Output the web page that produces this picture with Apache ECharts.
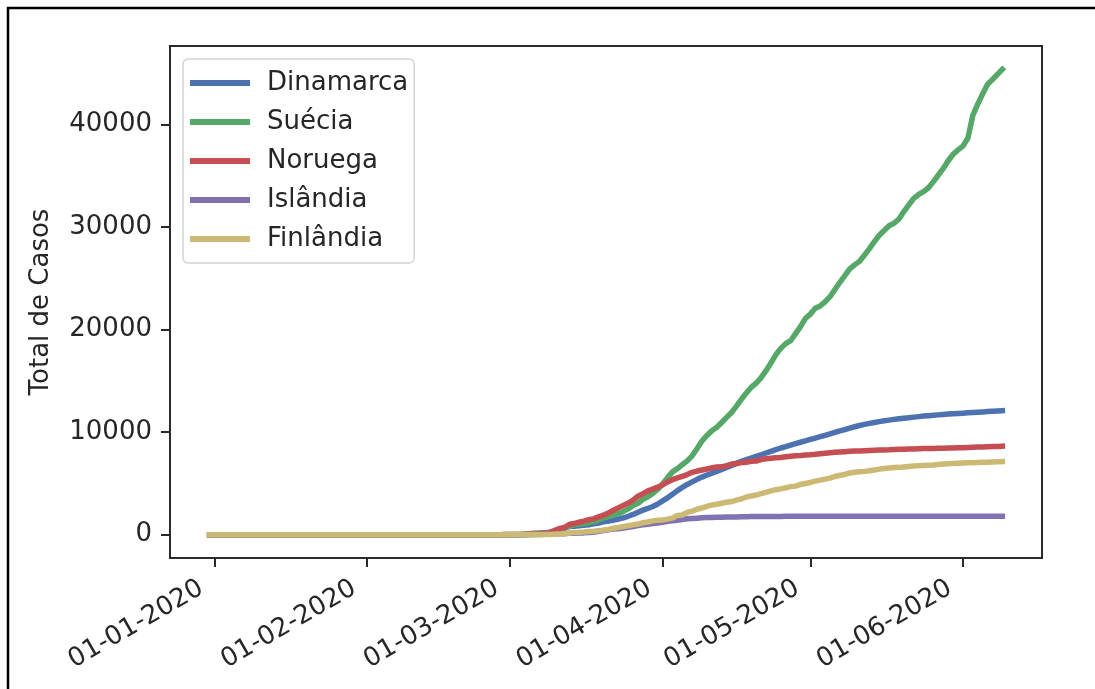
<!DOCTYPE html>
<html>
<head>
<meta charset="utf-8">
<script src="https://cdn.jsdelivr.net/npm/echarts@6/dist/echarts.min.js"></script>
<style>
  html, body { margin: 0; padding: 0; background: #ffffff; }
  #chart { width: 1095px; height: 689px; }
</style>
</head>
<body>
<div id="chart"></div>
<script>
// Cumulative COVID-19 cases in the Nordic countries, 31-12-2019 .. 09-06-2020.
// Two sparse early dates, then one value per day from 26-02-2020.
const earlyDates = ['2019-12-31', '2020-01-31'];
const dailyFrom = '2020-02-26';
const dailyTo = '2020-06-09';

const countries = ['Dinamarca', 'Suécia', 'Noruega', 'Islândia', 'Finlândia'];
const colors = ['#4C72B0', '#55A868', '#C44E52', '#8172B2', '#CCB974'];

const dinamarca = [
  0, 0,
  0, 1, 1, 1,
  2, 3, 4, 6, 10, 21, 24, 35, 90, 262,
  442, 615, 801, 827, 864, 914, 977, 1057, 1151, 1255,
  1337, 1420, 1514, 1650, 1800, 1980, 2200, 2400, 2560, 2750, 3000,
  3300, 3600, 3950, 4300, 4620, 4900, 5150, 5400, 5620, 5820,
  6000, 6180, 6370, 6560, 6760, 6960, 7150, 7320, 7480, 7640,
  7800, 7970, 8130, 8300, 8460, 8600, 8740, 8880, 9020, 9160,
  9300, 9430, 9560, 9700, 9840, 9980, 10120, 10260, 10400, 10530,
  10650, 10760, 10860, 10950, 11030, 11110, 11180, 11250, 11310, 11370,
  11420, 11470, 11520, 11570, 11610, 11650, 11690, 11730, 11770, 11800, 11830,
  11860, 11890, 11920, 11950, 11980, 12010, 12040, 12070, 12100
];

const suecia = [
  0, 1,
  2, 7, 7, 12,
  14, 15, 30, 52, 94, 137, 161, 203, 248, 355,
  500, 687, 814, 961, 1022, 1103, 1190, 1279, 1439, 1639,
  1763, 1934, 2046, 2272, 2526, 2840, 3069, 3447, 3700, 4028, 4435,
  4947, 5568, 6131, 6443, 6830, 7206, 7693, 8419, 9141, 9685,
  10151, 10483, 10948, 11445, 11927, 12540, 13216, 13822, 14385, 14777,
  15322, 16004, 16755, 17567, 18177, 18640, 18926, 19621, 20302, 21092,
  21520, 22082, 22317, 22721, 23216, 23918, 24623, 25265, 25921, 26322,
  26670, 27272, 27909, 28582, 29207, 29677, 30143, 30377, 30799, 31523,
  32172, 32809, 33188, 33459, 33843, 34440, 35088, 35727, 36476, 37113, 37542,
  37900, 38700, 40900, 42000, 43000, 43950, 44400, 44900, 45400
];

const noruega = [
  0, 0,
  1, 1, 6, 15,
  19, 25, 32, 56, 87, 108, 147, 176, 205, 400,
  598, 702, 996, 1090, 1221, 1333, 1463, 1550, 1746, 1914,
  2118, 2385, 2621, 2863, 3084, 3369, 3755, 4015, 4284, 4445, 4641,
  4863, 5147, 5370, 5550, 5687, 5865, 6086, 6211, 6314, 6409,
  6525, 6603, 6623, 6740, 6896, 6937, 7036, 7078, 7156, 7191,
  7338, 7401, 7463, 7499, 7527, 7599, 7660, 7710, 7738, 7783,
  7809, 7847, 7904, 7955, 7996, 8034, 8070, 8099, 8132, 8157,
  8175, 8196, 8219, 8237, 8257, 8267, 8281, 8309, 8332, 8346,
  8352, 8364, 8383, 8401, 8411, 8422, 8437, 8446, 8455, 8469, 8477,
  8489, 8504, 8522, 8547, 8555, 8576, 8594, 8608, 8641
];

const islandia = [
  0, 0,
  0, 0, 1, 1,
  1, 3, 9, 16, 26, 35, 45, 50, 58, 69,
  85, 103, 134, 156, 171, 180, 220, 250, 330, 409,
  473, 568, 588, 648, 737, 802, 890, 963, 1020, 1086, 1135,
  1220, 1319, 1364, 1417, 1486, 1562, 1586, 1616, 1648, 1675,
  1689, 1701, 1711, 1720, 1727, 1739, 1754, 1760, 1771, 1771,
  1773, 1778, 1785, 1789, 1790, 1792, 1795, 1795, 1797, 1797,
  1799, 1799, 1799, 1799, 1799, 1799, 1801, 1801, 1801, 1801,
  1801, 1802, 1802, 1802, 1802, 1802, 1802, 1802, 1802, 1802,
  1803, 1803, 1803, 1804, 1804, 1804, 1804, 1805, 1805, 1805, 1806,
  1806, 1806, 1806, 1806, 1806, 1807, 1807, 1807, 1807
];

const finlandia = [
  0, 1,
  2, 2, 2, 3,
  6, 6, 7, 7, 12, 15, 19, 23, 30, 40,
  59, 109, 155, 225, 244, 277, 321, 336, 400, 450,
  523, 626, 700, 792, 880, 958, 1041, 1167, 1240, 1352, 1418,
  1446, 1518, 1615, 1882, 1927, 2176, 2308, 2487, 2605, 2769,
  2905, 2974, 3064, 3161, 3237, 3369, 3489, 3681, 3783, 3868,
  4014, 4129, 4284, 4395, 4475, 4576, 4695, 4740, 4906, 4995,
  5100, 5230, 5330, 5420, 5520, 5680, 5800, 5880, 6020, 6100,
  6140, 6180, 6240, 6320, 6400, 6460, 6510, 6550, 6570, 6610,
  6660, 6700, 6740, 6760, 6780, 6810, 6860, 6900, 6930, 6960, 6980,
  7000, 7010, 7030, 7050, 7070, 7080, 7100, 7110, 7130
];

const monthTicks = ['2020-01-01', '2020-02-01', '2020-03-01', '2020-04-01', '2020-05-01', '2020-06-01'];
const yTicks = [0, 10000, 20000, 30000, 40000];

// ---------------------------------------------------------------------------

function pad(n) { return (n < 10 ? '0' : '') + n; }
function iso(d) { return d.getFullYear() + '-' + pad(d.getMonth() + 1) + '-' + pad(d.getDate()); }
function localTime(s) {
  const p = s.split('-').map(Number);
  return new Date(p[0], p[1] - 1, p[2]).getTime();
}
function dailyDates(from, to) {
  const out = [];
  const d = new Date(localTime(from));
  const end = localTime(to);
  while (d.getTime() <= end) { out.push(iso(d)); d.setDate(d.getDate() + 1); }
  return out;
}

const dates = earlyDates.concat(dailyDates(dailyFrom, dailyTo));
const times = dates.map(localTime);
const seriesValues = [dinamarca, suecia, noruega, islandia, finlandia];
const monthTimes = monthTicks.map(localTime);

// axis extents with a 5% margin on each side of the data
const t0 = times[0];
const t1 = times[times.length - 1];
const tPad = (t1 - t0) * 0.05;
let yMax = 0;
seriesValues.forEach(v => v.forEach(x => { if (x > yMax) yMax = x; }));
const yPad = yMax * 0.05;

const FONT = 'DejaVu Sans';
const FS = 26;
const TEXT = '#262626';
const SPINE = '#2a2a2a';

const chart = echarts.init(document.getElementById('chart'), null, { renderer: 'canvas' });

chart.setOption({
  animation: false,
  backgroundColor: '#ffffff',
  grid: {
    left: 170, right: 53, top: 46, bottom: 131,
    show: true, borderColor: SPINE, borderWidth: 2, backgroundColor: 'transparent'
  },
  legend: {
    orient: 'vertical',
    left: 183, top: 59,
    data: countries,
    icon: 'rect',
    itemWidth: 60, itemHeight: 6,
    itemGap: 13,
    padding: [11, 6, 11, 7],
    backgroundColor: 'rgba(255,255,255,0.85)',
    borderColor: '#d4d4d4', borderWidth: 1.5, borderRadius: 5,
    textStyle: { fontFamily: FONT, fontSize: FS, color: TEXT, padding: [0, 0, 0, 12] }
  },
  xAxis: {
    type: 'value',
    min: t0 - tPad,
    max: t1 + tPad,
    axisLine: { show: true, onZero: false, lineStyle: { color: SPINE, width: 2 } },
    splitLine: { show: false },
    axisTick: {
      show: true, length: 9,
      lineStyle: { color: SPINE, width: 2 },
      customValues: monthTimes
    },
    axisLabel: {
      customValues: monthTimes,
      rotate: 30,
      margin: 21,
      padding: [0, 15, 0, 0],
      fontFamily: FONT, fontSize: FS, color: TEXT,
      formatter: function (v) {
        const d = new Date(v);
        return pad(d.getDate()) + '-' + pad(d.getMonth() + 1) + '-' + d.getFullYear();
      }
    }
  },
  yAxis: {
    type: 'value',
    min: -yPad,
    max: yMax + yPad,
    name: 'Total de Casos',
    nameLocation: 'middle',
    nameGap: 116,
    nameTextStyle: { fontFamily: FONT, fontSize: FS, color: TEXT },
    axisLine: { show: true, onZero: false, lineStyle: { color: SPINE, width: 2 } },
    splitLine: { show: false },
    axisTick: {
      show: true, length: 9,
      lineStyle: { color: SPINE, width: 2 },
      customValues: yTicks
    },
    axisLabel: {
      customValues: yTicks,
      margin: 18,
      fontFamily: FONT, fontSize: FS, color: TEXT,
      formatter: function (v) { return String(Math.round(v)); }
    }
  },
  series: countries.map((name, i) => ({
    name: name,
    type: 'line',
    showSymbol: false,
    symbol: 'none',
    color: colors[i],
    lineStyle: { width: 5.5, color: colors[i], cap: 'square', join: 'round' },
    data: times.map((t, k) => [t, seriesValues[i][k]])
  })),
  graphic: [{
    type: 'polyline',
    silent: true,
    shape: { points: [[8, 700], [8, 8], [1100, 8]] },
    style: { stroke: '#000000', lineWidth: 2.5, fill: null }
  }]
});
</script>
</body>
</html>
